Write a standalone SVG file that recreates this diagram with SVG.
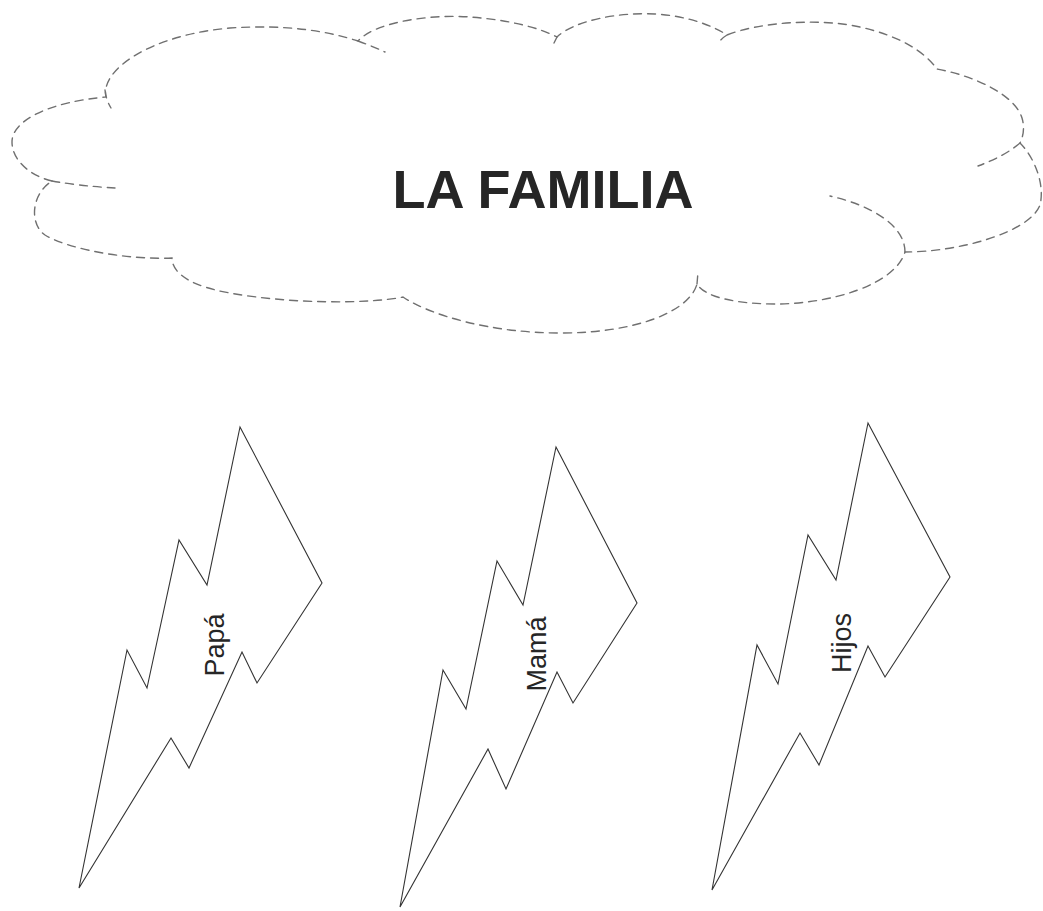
<svg xmlns="http://www.w3.org/2000/svg" width="1043" height="911" viewBox="0 0 1043 911">
<style>
.cloud{fill:none;stroke:#707070;stroke-width:1.4;stroke-dasharray:8 6;stroke-linecap:round}
.bolt{fill:#fff;stroke:#333;stroke-width:1.1;stroke-linejoin:miter}
.title{font-family:"Liberation Sans",Arial,sans-serif;font-weight:bold;font-size:54px;fill:#262626}
.lbl{font-family:"Liberation Sans",Arial,sans-serif;font-size:27px;fill:#262626}
</style>
<rect width="1043" height="911" fill="#fff"/>
<g id="cloud">
<path class="cloud" d="M52,181 C30,176 12,160 12,142 C12,120 50,102 106,97 C100,70 150,35 230,28 C290,24 330,32 358,41 C375,22 430,14 470,17 C510,20 540,28 557,37 C575,20 620,12 655,14 C690,16 715,27 727,35 C760,22 820,18 860,27 C900,36 925,52 937,69 C975,76 1015,95 1022,118 C1025,128 1023,137 1020,143 C1035,158 1045,185 1040,205 C1030,232 960,252 905,252 C895,285 830,304 775,304 C740,304 705,298 697,284 C690,310 640,333 560,333 C490,333 430,315 403,297 C370,304 290,304 230,293 C195,287 172,275 172,258 C130,260 70,250 45,235 C30,225 30,195 52,181 Z"/>
<path class="cloud" d="M105,90 Q106,100 111,108 M358,41 Q372,46 385,52 M727,35 Q722,38 717,44 M1020,143 Q1005,156 978,166 M905,252 C905,225 870,205 830,196 M52,181 Q80,186 115,188 M697,284 L698,272 M557,37 L554,43"/>
<text class="title" x="543" y="208" text-anchor="middle">LA FAMILIA</text>
</g>
<g id="connectors"/>
<g id="bolt-papa">
<polygon class="bolt" points="240,427 322,583 257,683 242,652 189,768 171,738 79,888 127,650 147,688 179,540 207,585"/>
<text class="lbl" transform="translate(224,645) rotate(-90)" text-anchor="middle">Papá</text>
</g>
<g id="bolt-mama">
<polygon class="bolt" points="556,447 637,603 573,703 557,672 506,789 488,749 400,907 443,670 466,709 497,561 523,605"/>
<text class="lbl" transform="translate(546,654) rotate(-90)" text-anchor="middle">Mamá</text>
</g>
<g id="bolt-hijos">
<polygon class="bolt" points="868,423 950,577 885,677 868,646 819,765 800,733 712,890 757,645 778,684 808,535 836,580"/>
<text class="lbl" transform="translate(851,643) rotate(-90)" text-anchor="middle">Hijos</text>
</g>
</svg>
